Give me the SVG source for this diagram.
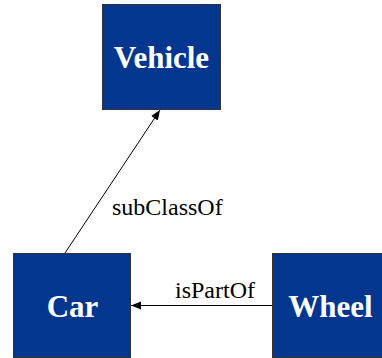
<svg xmlns="http://www.w3.org/2000/svg" width="382" height="358" viewBox="0 0 382 358">
<style>
.box{fill:#02368f;stroke:#333;stroke-width:1}
.nt{font-family:"Liberation Serif","Times New Roman",serif;font-weight:bold;font-size:31px;fill:#fff;text-anchor:middle}
.el{font-family:"Liberation Serif","Times New Roman",serif;font-size:24px;fill:#000}
.edge{stroke:#000;stroke-width:1;fill:none;marker-end:url(#ah)}
</style>
<defs>
<marker id="ah" viewBox="0 0 10 10" refX="10" refY="5" markerWidth="10" markerHeight="10" markerUnits="userSpaceOnUse" orient="auto">
<path d="M0,1 L10,5 L0,9 Z" fill="#000"/>
</marker>
</defs>
<g id="connectors">
<line class="edge" x1="65" y1="253" x2="160" y2="110"/>
<text class="el" x="112" y="215">subClassOf</text>
<line class="edge" x1="272" y1="305.5" x2="131" y2="305.5"/>
<text class="el" x="175" y="298">isPartOf</text>
</g>
<g id="vehicle">
<rect class="box" x="102.5" y="4.5" width="118" height="105"/>
<text class="nt" x="161.5" y="68">Vehicle</text>
</g>
<g id="car">
<rect class="box" x="13.5" y="253.5" width="117" height="104"/>
<text class="nt" x="72.5" y="317">Car</text>
</g>
<g id="wheel">
<rect class="box" x="272.5" y="253.5" width="117" height="104"/>
<text class="nt" x="330.5" y="317">Wheel</text>
</g>
</svg>
